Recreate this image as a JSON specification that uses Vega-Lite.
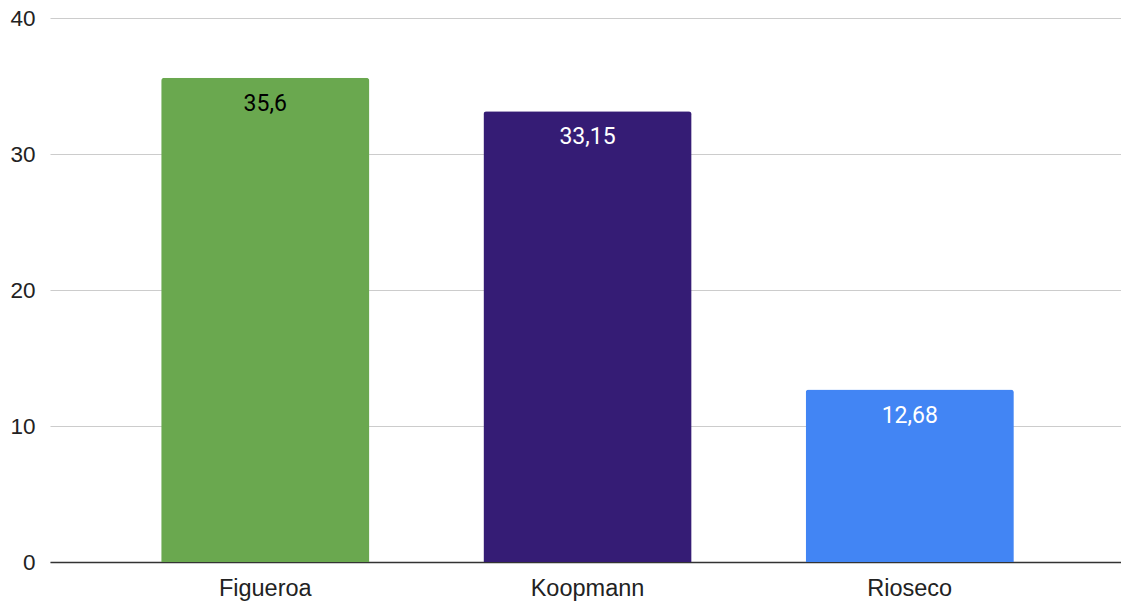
{
  "$schema": "https://vega.github.io/schema/vega-lite/v6.json",
  "width": 1075,
  "height": 544,
  "autosize": {"type": "none"},
  "padding": {"left": 50, "top": 18, "right": -4, "bottom": 40},
  "config": {
    "font": "Roboto",
    "view": {"stroke": null},
    "locale": {"number": {"decimal": ",", "thousands": ".", "grouping": [3], "currency": ["", ""]}}
  },
  "data": {
    "values": [
      {"name": "Figueroa", "value": 35.6},
      {"name": "Koopmann", "value": 33.15},
      {"name": "Rioseco", "value": 12.68}
    ]
  },
  "encoding": {
    "x": {
      "field": "name", "type": "nominal", "sort": null,
      "scale": {"paddingInner": 0.354, "paddingOuter": 0.345},
      "axis": {"title": null, "labelAngle": 0, "labelFontSize": 23.5, "labelColor": "#222", "labelPadding": 14, "ticks": false, "domainColor": "#333", "domainWidth": 1.5, "labelFont": "Liberation Sans"}
    },
    "y": {
      "field": "value", "type": "quantitative",
      "scale": {"domain": [0, 40]},
      "axis": {"title": null, "values": [0, 10, 20, 30, 40], "labelFontSize": 22.5, "labelColor": "#222", "labelPadding": 15, "ticks": false, "domain": false, "gridColor": "#cccccc", "gridWidth": 1.2, "labelFont": "Liberation Sans"}
    }
  },
  "layer": [
    {
      "mark": {"type": "bar", "cornerRadiusTopLeft": 3, "cornerRadiusTopRight": 3},
      "encoding": {
        "color": {
          "field": "name", "type": "nominal", "legend": null,
          "scale": {"domain": ["Figueroa", "Koopmann", "Rioseco"], "range": ["#6aa84f", "#351c75", "#4285f4"]}
        }
      }
    },
    {
      "mark": {"type": "text", "baseline": "middle", "dy": 26, "fontSize": 23, "font": "Roboto"},
      "encoding": {
        "text": {"field": "value", "type": "quantitative", "format": ".4~g"},
        "color": {"condition": {"test": "datum.name === 'Figueroa'", "value": "#000000"}, "value": "#ffffff"}
      }
    }
  ]
}
